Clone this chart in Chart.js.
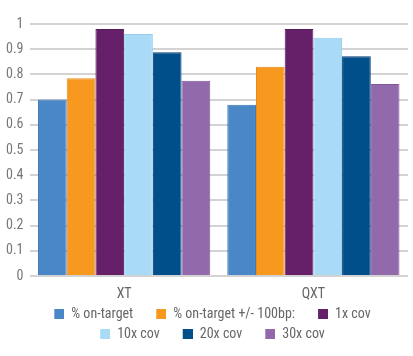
<!DOCTYPE html>
<html><head><meta charset="utf-8">
<script src="https://cdn.jsdelivr.net/npm/chart.js@4/dist/chart.umd.min.js"></script>
<style>html,body{margin:0;padding:0;background:#fff}#wrap{width:413px;height:356px}</style>
</head><body><div id="wrap"><canvas id="c" width="413" height="356"></canvas></div>
<script>
const categories = ["XT", "QXT"];
const seriesNames = ["% on-target", "% on-target +/- 100bp:", "1x cov", "10x cov", "20x cov", "30x cov"];
const onTarget = [0.70, 0.68];
const onTarget100 = [0.785, 0.83];
const cov1x = [0.98, 0.98];
const cov10x = [0.96, 0.945];
const cov20x = [0.888, 0.872];
const cov30x = [0.775, 0.762];
const yTicks = [0, 0.1, 0.2, 0.3, 0.4, 0.5, 0.6, 0.7, 0.8, 0.9, 1];
const fills = ["#4a87c6", "#f7991f", "#66206a", "#a9daf6", "#004e8a", "#926aac"];
const borders = ["#3d77b6", "#e8891a", "#561a5a", "#96cbec", "#003f75", "#8158a0"];
const values = [onTarget, onTarget100, cov1x, cov10x, cov20x, cov30x];
const FAM = "'Liberation Sans Narrow', 'Roboto Condensed', Roboto, sans-serif";
const SLOT = 27;
function swatch(color) {
  const c = document.createElement('canvas');
  c.width = SLOT; c.height = 10;
  const g = c.getContext('2d');
  g.fillStyle = color; g.fillRect(SLOT - 10, 0, 10, 10);
  return c;
}
const datasets = seriesNames.map((n, i) => ({
  label: n, data: values[i], backgroundColor: fills[i], borderColor: borders[i], borderWidth: 1,
  categoryPercentage: 0.91, barPercentage: 1, pointStyle: swatch(fills[i])
}));
const font = {family: FAM, size: 14};
new Chart(document.getElementById('c'), {
  type: 'bar',
  data: {labels: categories, datasets},
  options: {
    responsive: false, animation: false, devicePixelRatio: 1,
    layout: {padding: {top: 24, right: 5, left: 0, bottom: 5}},
    plugins: {
      legend: {position: 'bottom', labels: {font, color: '#666', usePointStyle: true, pointStyleWidth: SLOT, boxHeight: 10, padding: 6}},
      tooltip: {enabled: false}
    },
    scales: {
      x: {grid: {display: false, drawTicks: true, tickLength: 11}, border: {display: false}, ticks: {font: {family: FAM, size: 14, lineHeight: 1}, color: '#666', padding: 0}},
      y: {min: 0, max: 1, afterBuildTicks: ax => { ax.ticks = yTicks.map(v => ({value: v})); },
          grid: {color: '#d3d3d3', lineWidth: 2, drawTicks: false},
          border: {display: false},
          ticks: {font, color: '#777', padding: 6, callback: v => String(v)}}
    }
  }
});
</script></body></html>
